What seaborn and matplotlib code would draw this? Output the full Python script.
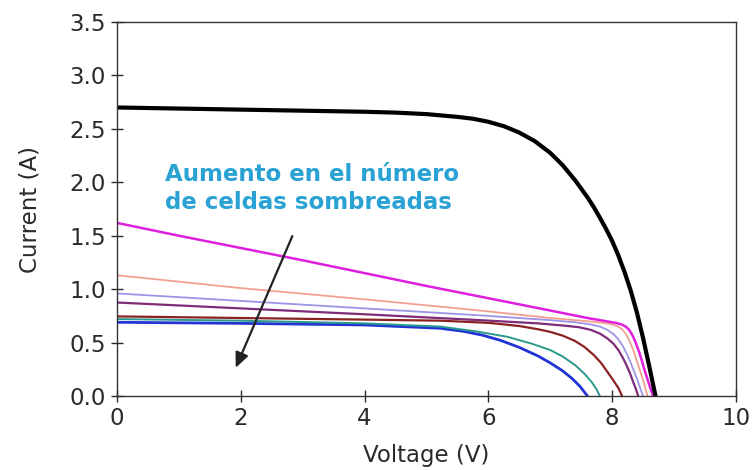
import matplotlib
matplotlib.use("Agg")
import matplotlib.pyplot as plt
import seaborn as sns
import pandas as pd

# I-V curves of a PV module with an increasing number of shaded cells
v_black = [0, 1, 2, 3, 4, 4.5, 5.0, 5.5, 5.75, 6.0, 6.25, 6.5, 6.75, 7.0, 7.2, 7.4, 7.6, 7.7, 7.8, 7.9, 8.0, 8.1, 8.2, 8.3, 8.4, 8.5, 8.6, 8.7]
i_black = [2.70, 2.69, 2.68, 2.67, 2.66, 2.652, 2.638, 2.612, 2.595, 2.566, 2.525, 2.465, 2.385, 2.275, 2.16, 2.02, 1.86, 1.77, 1.67, 1.565, 1.45, 1.315, 1.16, 0.985, 0.78, 0.54, 0.275, 0.0]

v_magenta = [0, 1, 2, 3, 4, 5, 6, 7, 7.6, 7.9, 8.05, 8.15, 8.22, 8.28, 8.33, 8.38, 8.43, 8.48, 8.53, 8.58, 8.62, 8.66]
i_magenta = [1.62, 1.50, 1.385, 1.27, 1.15, 1.03, 0.915, 0.80, 0.73, 0.70, 0.685, 0.67, 0.65, 0.615, 0.565, 0.50, 0.42, 0.33, 0.23, 0.14, 0.07, 0.0]

v_salmon = [0, 2, 4, 5.86, 7, 7.6, 7.85, 8.0, 8.08, 8.15, 8.21, 8.27, 8.32, 8.37, 8.42, 8.47, 8.52, 8.57]
i_salmon = [1.13, 1.01, 0.905, 0.80, 0.73, 0.70, 0.685, 0.67, 0.655, 0.63, 0.59, 0.53, 0.46, 0.38, 0.29, 0.20, 0.11, 0.0]

v_lavender = [0, 2, 4, 5.86, 7, 7.4, 7.65, 7.8, 7.92, 8.02, 8.1, 8.17, 8.24, 8.3, 8.36, 8.42, 8.46, 8.5]
i_lavender = [0.96, 0.89, 0.82, 0.755, 0.71, 0.69, 0.67, 0.65, 0.62, 0.58, 0.53, 0.47, 0.39, 0.31, 0.22, 0.13, 0.06, 0.0]

v_purple = [0, 2, 4, 5.86, 6.8, 7.2, 7.45, 7.65, 7.8, 7.92, 8.02, 8.1, 8.17, 8.23, 8.29, 8.34, 8.38, 8.42]
i_purple = [0.875, 0.82, 0.765, 0.71, 0.68, 0.66, 0.645, 0.62, 0.585, 0.54, 0.49, 0.43, 0.36, 0.29, 0.21, 0.13, 0.07, 0.0]

v_brown = [0, 2, 4, 5.22, 6.0, 6.5, 6.8, 7.0, 7.2, 7.4, 7.55, 7.7, 7.82, 7.93, 8.02, 8.1, 8.16]
i_brown = [0.745, 0.73, 0.715, 0.705, 0.685, 0.655, 0.625, 0.60, 0.565, 0.515, 0.46, 0.385, 0.31, 0.22, 0.145, 0.075, 0.0]

v_teal = [0, 2, 4, 5.22, 5.8, 6.3, 6.7, 7.0, 7.2, 7.4, 7.55, 7.67, 7.75, 7.8]
i_teal = [0.72, 0.705, 0.68, 0.65, 0.605, 0.555, 0.49, 0.43, 0.37, 0.29, 0.21, 0.13, 0.06, 0.0]

v_blue = [0, 2, 4, 5.22, 5.6, 5.9, 6.2, 6.5, 6.8, 7.0, 7.2, 7.35, 7.48, 7.6]
i_blue = [0.69, 0.68, 0.665, 0.634, 0.605, 0.57, 0.52, 0.455, 0.375, 0.31, 0.235, 0.165, 0.09, 0.0]

x_ticks = [0, 2, 4, 6, 8, 10]
y_ticks = [0.0, 0.5, 1.0, 1.5, 2.0, 2.5, 3.0, 3.5]

sns.set_style("ticks")
plt.rcParams["font.family"] = ["DejaVu Sans"]

fig = plt.figure(figsize=(7.52, 4.70), dpi=100)
ax = fig.add_axes([0.1556, 0.1574, 0.8231, 0.7958])

curves = [
    (v_blue, i_blue, "#2233D6", 2.0),
    (v_teal, i_teal, "#2A9A8C", 1.4),
    (v_brown, i_brown, "#8A2222", 1.6),
    (v_purple, i_purple, "#7E2C78", 1.6),
    (v_lavender, i_lavender, "#9C94E6", 1.3),
    (v_salmon, i_salmon, "#F2A08E", 1.3),
    (v_magenta, i_magenta, "#E01EE0", 1.8),
    (v_black, i_black, "#000000", 3.0),
]
for v, i, col, lw in curves:
    df = pd.DataFrame({"V": v, "I": i})
    sns.lineplot(data=df, x="V", y="I", color=col, lw=lw, sort=False,
                 estimator=None, ax=ax, solid_joinstyle="round")

ax.set_xlim(0, 10)
ax.set_ylim(0, 3.5)
ax.set_xticks(x_ticks)
ax.set_xticklabels([str(t) for t in x_ticks])
ax.set_yticks(y_ticks)
ax.set_yticklabels([f"{t:.1f}" for t in y_ticks])
ax.tick_params(direction="inout", length=8, width=1, labelsize=16.5,
               colors="#2a2a2a", pad=4)
for s in ax.spines.values():
    s.set_color("#333333")
    s.set_linewidth(1.0)

ax.set_xlabel("Voltage (V)", fontsize=16.5, color="#2a2a2a", labelpad=10)
ax.set_ylabel("Current (A)", fontsize=16.5, color="#2a2a2a", labelpad=20)

ax.text(0.77, 1.94, "Aumento en el número\nde celdas sombreadas",
        fontsize=16.5, fontweight="bold", color="#2AA3D4",
        ha="left", va="center", linespacing=1.25)
ax.annotate("", xy=(1.9, 0.24), xytext=(2.85, 1.52),
            arrowprops=dict(arrowstyle="-|>,head_length=0.9,head_width=0.4",
                            color="#222222", lw=1.6))

fig.savefig("out.png", dpi=100)
